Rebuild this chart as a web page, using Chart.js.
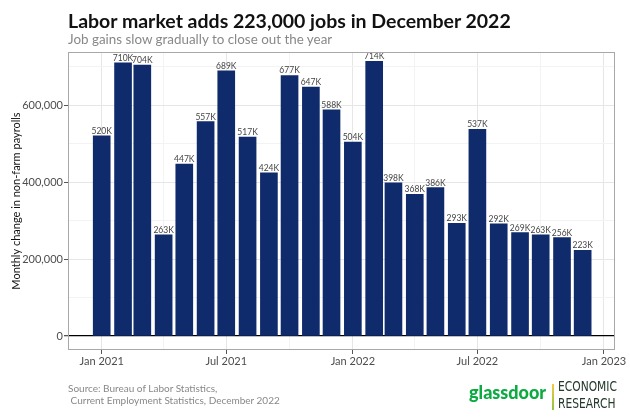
<!DOCTYPE html>
<html>
<head>
<meta charset="utf-8">
<script src="https://cdn.jsdelivr.net/npm/chart.js@4"></script>
<style>
  body { margin: 0; background: #fff; font-family: Lato, "Open Sans", sans-serif; }
  #wrap { position: relative; width: 630px; height: 420px; overflow: hidden; }
  #chart { position: absolute; left: 0; top: 0; }
  .title { position: absolute; left: 68px; top: 9px; font-size: 19.5px; font-weight: 700; color: #111; white-space: nowrap; }
  .subtitle { position: absolute; left: 68px; top: 31px; font-size: 13.4px; color: #888; white-space: nowrap; }
  .caption { position: absolute; left: 68px; top: 382px; font-size: 10px; line-height: 12px; color: #888; white-space: pre; }
  .logo { position: absolute; left: 469px; top: 381px; font-size: 18px; font-weight: 900; color: #0caa41; }
  .divider { position: absolute; left: 552px; top: 384px; width: 2px; height: 26px; background: linear-gradient(#f5c842, #8cc63f); }
  .econ { position: absolute; left: 558px; top: 378px; font-family: "Liberation Sans Narrow", "DejaVu Sans Condensed", sans-serif; font-size: 14px; line-height: 17px; color: #23392c; transform: scaleX(0.85); transform-origin: left top; }
</style>
</head>
<body>
<div id="wrap">
  <canvas id="chart" width="630" height="420"></canvas>
  <div class="title">Labor market adds 223,000 jobs in December 2022</div>
  <div class="subtitle">Job gains slow gradually to close out the year</div>
  <div class="caption">Source: Bureau of Labor Statistics,
 Current Employment Statistics, December 2022</div>
  <div class="logo">glassdoor</div>
  <div class="divider"></div>
  <div class="econ">ECONOMIC<br>RESEARCH</div>
</div>
<script>
// monthly change in non-farm payrolls
const months = ['2021-01','2021-02','2021-03','2021-04','2021-05','2021-06','2021-07','2021-08','2021-09','2021-10','2021-11','2021-12',
                '2022-01','2022-02','2022-03','2022-04','2022-05','2022-06','2022-07','2022-08','2022-09','2022-10','2022-11','2022-12'];
const jobs = [520000, 710000, 704000, 263000, 447000, 557000, 689000, 517000, 424000, 677000, 647000, 588000,
              504000, 714000, 398000, 368000, 386000, 293000, 537000, 292000, 269000, 263000, 256000, 223000];
const xMajor = ['2021-01','2021-07','2022-01','2022-07','2023-01'];
const xMajorLabels = ['Jan 2021','Jul 2021','Jan 2022','Jul 2022','Jan 2023'];
const xMinor = ['2021-04','2021-10','2022-04','2022-10'];
const yMajor = [0, 200000, 400000, 600000];
const yMinor = [100000, 300000, 500000, 700000];

function days(m){
    const p = m.split('-');
    return (Date.UTC(+p[0], +p[1] - 1, 1) - Date.UTC(2021, 0, 1)) / 86400000;
}
const xMajorDays = xMajor.map(days);
const xMinorDays = xMinor.map(days);

const navy = '#102b6c';
const fontFam = 'Lato, "Open Sans", sans-serif';

const barLabels = {
    id: 'barLabels',
    afterDatasetsDraw: (chart) => {
        const ctx = chart.ctx;
        const meta = chart.getDatasetMeta(0);
        ctx.save();
        ctx.font = '8.5px ' + fontFam;
        ctx.fillStyle = '#444';
        ctx.textAlign = 'center';
        ctx.textBaseline = 'bottom';
        meta.data.forEach((bar, i) => {
            ctx.fillText(Math.round(jobs[i] / 1000) + 'K', bar.x, bar.y - 0.5);
        });
        ctx.restore();
    }
};
const panelBorder = {
    id: 'panelBorder',
    afterDraw: (chart) => {
        const a = chart.chartArea, ctx = chart.ctx;
        ctx.save();
        ctx.strokeStyle = '#a8a8a8';
        ctx.lineWidth = 1;
        ctx.strokeRect(a.left + 0.5, a.top + 0.5, a.right - a.left - 1, a.bottom - a.top - 1);
        ctx.restore();
    }
};

new Chart(document.getElementById('chart'), {
    type: 'bar',
    data: {
        datasets: [{
            data: months.map((m, i) => ({ x: days(m), y: jobs[i] })),
            backgroundColor: navy,
            borderWidth: 0,
            barThickness: 17
        }]
    },
    options: {
        responsive: false,
        animation: false,
        layout: { padding: { top: 52, right: 15, left: 0, bottom: 48 } },
        plugins: { legend: { display: false }, tooltip: { enabled: false } },
        scales: {
            x: {
                type: 'linear',
                min: -49,
                max: 746,
                offset: false,
                afterBuildTicks: (s) => {
                    s.ticks = xMajorDays.concat(xMinorDays).map(v => ({ value: v }));
                },
                afterFit: (s) => { s.height = 22; },
                border: { display: false },
                grid: {
                    offset: false,
                    color: (c) => xMajorDays.includes(c.tick.value) ? '#e6e6e6' : '#f3f3f3',
                    tickColor: (c) => xMajorDays.includes(c.tick.value) ? '#555' : 'rgba(0,0,0,0)',
                    tickLength: 4
                },
                ticks: {
                    autoSkip: false,
                    maxRotation: 0,
                    padding: 1,
                    color: '#4d4d4d',
                    font: { family: fontFam, size: 11 },
                    callback: (v) => {
                        const k = xMajorDays.indexOf(v);
                        return k >= 0 ? xMajorLabels[k] : '';
                    }
                }
            },
            y: {
                min: -36000,
                max: 738000,
                afterBuildTicks: (s) => {
                    s.ticks = yMajor.concat(yMinor).map(v => ({ value: v }));
                },
                afterFit: (s) => { s.width = 68; },
                border: { display: false },
                grid: {
                    color: (c) => c.tick.value === 0 ? '#000' : (yMajor.includes(c.tick.value) ? '#e6e6e6' : '#f3f3f3'),
                    lineWidth: (c) => c.tick.value === 0 ? 1.3 : 1,
                    tickColor: (c) => yMajor.includes(c.tick.value) ? '#555' : 'rgba(0,0,0,0)',
                    tickLength: 4
                },
                ticks: {
                    padding: 1,
                    color: '#4d4d4d',
                    font: { family: fontFam, size: 11 },
                    callback: (v) => yMajor.includes(v) ? v.toLocaleString('en-US') : ''
                },
                title: {
                    display: true,
                    text: 'Monthly change in non-farm payrolls',
                    color: '#111',
                    font: { family: fontFam, size: 11 },
                    padding: { top: 10, bottom: 0 }
                }
            }
        }
    },
    plugins: [barLabels, panelBorder]
});
</script>
</body>
</html>
